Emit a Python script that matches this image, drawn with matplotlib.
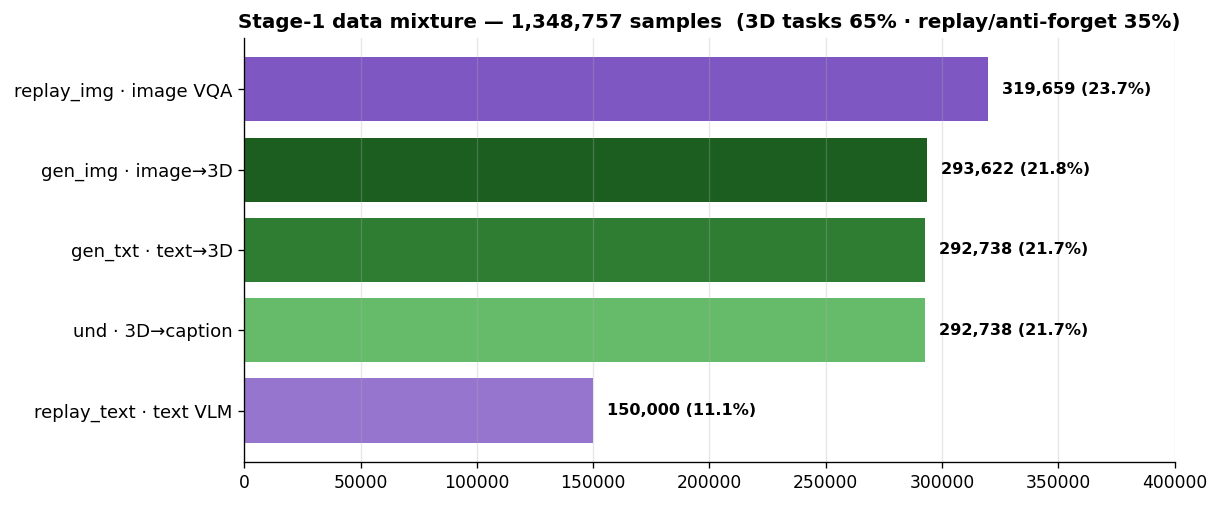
import matplotlib.pyplot as plt

plt.rcParams['font.family'] = ['DejaVu Sans']

# Stage-1 mixture counts (top to bottom as shown)
labels = ['replay_img · image VQA', 'gen_img · image→3D', 'gen_txt · text→3D',
          'und · 3D→caption', 'replay_text · text VLM']
counts = [319659, 293622, 292738, 292738, 150000]
colors = ['#7e57c2', '#1b5e20', '#2e7d32', '#66bb6a', '#9575cd']

total = sum(counts)

fig, ax = plt.subplots(figsize=(10.175, 4.217), dpi=120)
ypos = list(range(len(labels)))
ax.barh(ypos, counts, color=colors)
ax.set_yticks(ypos)
ax.set_yticklabels(labels)
ax.invert_yaxis()
ax.tick_params(axis='y', labelsize=10.9)
ax.tick_params(axis='x', labelsize=10.3)

for y, c in zip(ypos, counts):
    ax.text(c + 6000, y, f"{c:,} ({c / total * 100:.1f}%)", va='center',
            fontsize=9.7, fontweight='bold')

ax.set_xlim(0, 400000)
ax.grid(axis='x', alpha=0.3)
ax.spines['top'].set_visible(False)
ax.spines['right'].set_visible(False)
ax.set_title(f"Stage-1 data mixture — {total:,} samples  (3D tasks 65% · replay/anti-forget 35%)",
             fontsize=11.9, fontweight='bold')

plt.subplots_adjust(left=0.2, right=0.962, top=0.925, bottom=0.087)
plt.savefig('out.png')
